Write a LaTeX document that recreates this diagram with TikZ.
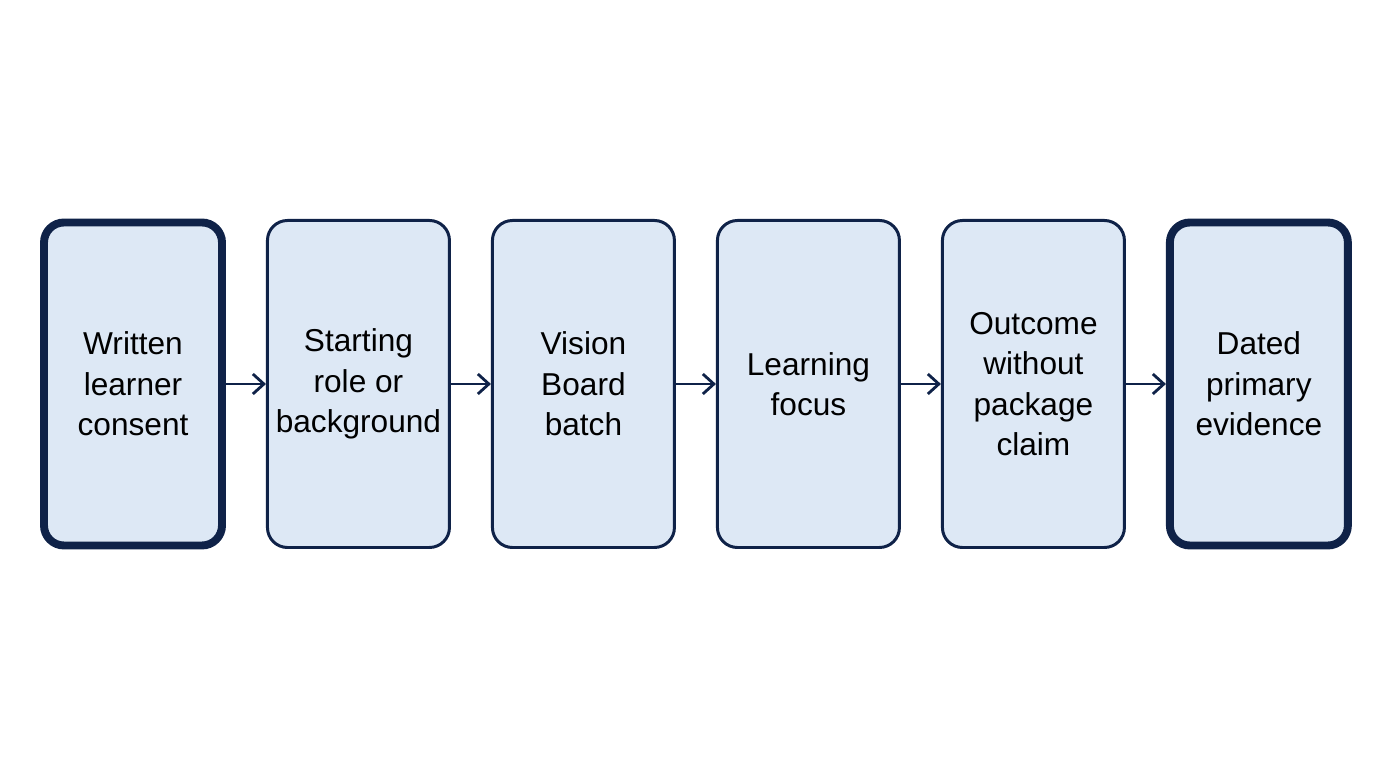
\documentclass[tikz,border=0pt]{standalone}
\usepackage{fontspec}
\setmainfont{Liberation Sans}
\usetikzlibrary{arrows.meta}
\usetikzlibrary{positioning}
\definecolor{boxfill}{HTML}{DDE8F5}
\definecolor{navy}{HTML}{0F2248}

\begin{document}
\begin{tikzpicture}[node distance=0.8cm, auto]
        \useasboundingbox (0,0) rectangle (27.52,15.36);
        \tikzset{
            stage/.style={draw=navy, fill=boxfill, rounded corners=0.4cm, line width=1.7pt,
                minimum width=3.64cm, minimum height=6.54cm, align=center,
                font=\fontsize{18}{23}\selectfont, text=black},
            endstage/.style={stage, line width=4.5pt, minimum width=3.56cm, minimum height=6.46cm},
            flow/.style={-{Straight Barb[length=2.2mm,width=4mm]}, draw=navy, line width=1.6pt}
        }

            % Stages
            \node [endstage] (Consent) at (2.66,7.68) {Written\\learner\\consent};
            \node [stage, right=of Consent] (Role) {Starting\\role or\\background};
            \node [stage, right=of Role] (Batch) {Vision\\Board\\batch};
            \node [stage, right=of Batch] (Focus) {Learning\\focus};
            \node [stage, right=of Focus] (Outcome) {Outcome\\without\\package\\claim};
            \node [endstage, right=of Outcome] (Evidence) {Dated\\primary\\evidence};

            % Connections
            \draw [flow] (Consent) -- (Role);
            \draw [flow] (Role) -- (Batch);
            \draw [flow] (Batch) -- (Focus);
            \draw [flow] (Focus) -- (Outcome);
            \draw [flow] (Outcome) -- (Evidence);

        \end{tikzpicture}
\end{document}
